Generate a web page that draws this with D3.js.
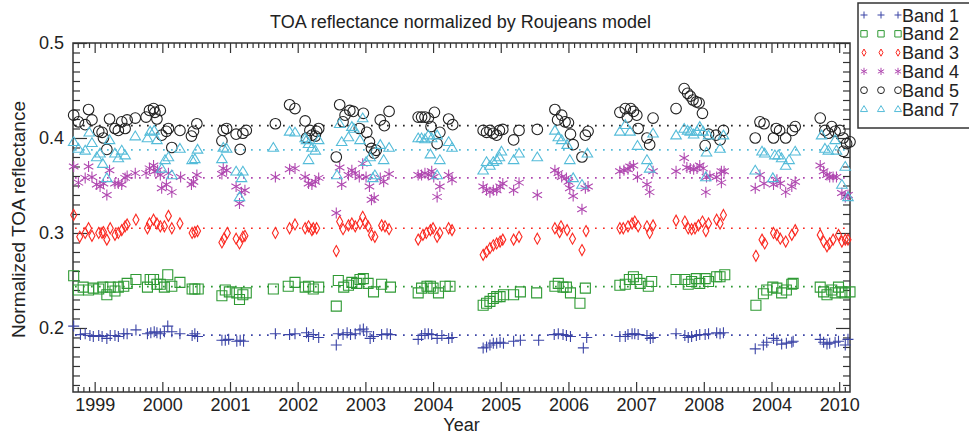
<!DOCTYPE html>
<html>
<head>
<meta charset="utf-8">
<script src="https://cdn.jsdelivr.net/npm/d3@7"></script>
<style>
  body { margin: 0; background: #fff; }
  svg { font-family: "Liberation Sans", Arial, Helvetica, sans-serif; }
</style>
</head>
<body>
<script>
// Band 1 (blue plus)
var band1 = [
  [1998.69,0.202],[1998.79,0.193],[1998.86,0.194],[1998.93,0.192],[1998.98,0.191],[1999.06,0.192],[1999.11,0.191],
  [1999.18,0.189],[1999.23,0.192],[1999.30,0.192],[1999.35,0.191],[1999.43,0.194],[1999.48,0.194],[1999.61,0.198],
  [1999.78,0.194],[1999.83,0.195],[1999.88,0.196],[1999.92,0.195],[1999.97,0.194],[2000.03,0.196],[2000.08,0.202],
  [2000.14,0.196],[2000.26,0.194],[2000.44,0.192],[2000.48,0.194],[2000.52,0.191],[2000.88,0.187],[2000.93,0.187],
  [2000.98,0.188],[2001.10,0.186],[2001.15,0.187],[2001.20,0.186],[2001.67,0.194],[2001.88,0.193],[2001.96,0.194],
  [2002.13,0.195],[2002.16,0.191],[2002.23,0.193],[2002.31,0.190],[2002.57,0.182],[2002.60,0.194],[2002.67,0.193],
  [2002.73,0.195],[2002.78,0.193],[2002.85,0.194],[2002.92,0.198],[2002.97,0.199],[2003.02,0.196],[2003.07,0.189],
  [2003.12,0.191],[2003.24,0.193],[2003.32,0.194],[2003.37,0.193],[2003.78,0.188],[2003.83,0.192],[2003.88,0.194],
  [2003.93,0.194],[2003.98,0.193],[2004.06,0.189],[2004.13,0.192],[2004.23,0.189],[2004.28,0.190],[2004.74,0.179],
  [2004.79,0.180],[2004.84,0.182],[2004.89,0.184],[2004.94,0.184],[2004.99,0.185],[2005.04,0.184],[2005.19,0.186],
  [2005.29,0.187],[2005.56,0.187],[2005.79,0.193],[2005.85,0.194],[2005.92,0.193],[2005.97,0.192],[2006.03,0.191],
  [2006.22,0.179],[2006.27,0.190],[2006.76,0.191],[2006.84,0.191],[2006.88,0.193],[2006.94,0.194],[2006.98,0.194],
  [2007.03,0.193],[2007.16,0.192],[2007.21,0.189],[2007.25,0.190],[2007.59,0.194],[2007.72,0.192],[2007.77,0.190],
  [2007.82,0.191],[2007.89,0.192],[2007.94,0.193],[2008.02,0.193],[2008.07,0.194],[2008.19,0.195],[2008.24,0.194],
  [2008.29,0.195],[2008.76,0.178],[2008.88,0.182],[2008.93,0.185],[2009.03,0.189],[2009.08,0.187],[2009.15,0.183],
  [2009.22,0.184],[2009.30,0.185],[2009.32,0.186],[2009.72,0.188],[2009.77,0.185],[2009.82,0.183],[2009.86,0.184],
  [2009.94,0.185],[2009.99,0.186],[2010.09,0.182],[2010.13,0.188]
];

// Band 2 (green squares)
var band2 = [
  [1998.69,0.255],[1998.76,0.240],[1998.83,0.243],[1998.91,0.240],[1998.98,0.242],[1999.06,0.241],[1999.12,0.243],
  [1999.18,0.235],[1999.23,0.243],[1999.30,0.239],[1999.35,0.243],[1999.43,0.244],[1999.48,0.247],[1999.61,0.251],
  [1999.78,0.243],[1999.82,0.251],[1999.87,0.251],[1999.92,0.246],[1999.97,0.246],[2000.03,0.243],[2000.08,0.256],
  [2000.14,0.244],[2000.26,0.248],[2000.44,0.241],[2000.48,0.241],[2000.53,0.241],[2000.88,0.234],[2000.93,0.240],
  [2000.99,0.238],[2001.10,0.237],[2001.14,0.230],[2001.19,0.235],[2001.24,0.237],[2001.64,0.241],[2001.86,0.244],
  [2001.96,0.248],[2002.11,0.243],[2002.16,0.244],[2002.23,0.241],[2002.31,0.243],[2002.57,0.223],[2002.60,0.250],
  [2002.68,0.243],[2002.75,0.245],[2002.80,0.248],[2002.87,0.247],[2002.92,0.251],[2002.97,0.252],[2003.04,0.247],
  [2003.12,0.238],[2003.24,0.246],[2003.37,0.243],[2003.78,0.237],[2003.83,0.242],[2003.91,0.244],[2003.96,0.244],
  [2004.00,0.242],[2004.08,0.237],[2004.18,0.244],[2004.25,0.244],[2004.74,0.224],[2004.79,0.226],[2004.84,0.228],
  [2004.89,0.231],[2004.94,0.233],[2004.99,0.233],[2005.04,0.235],[2005.19,0.235],[2005.29,0.238],[2005.53,0.237],
  [2005.80,0.244],[2005.85,0.247],[2005.92,0.243],[2005.97,0.243],[2006.03,0.237],[2006.17,0.226],[2006.25,0.242],
  [2006.76,0.245],[2006.84,0.246],[2006.90,0.251],[2006.96,0.254],[2007.01,0.251],[2007.06,0.247],[2007.18,0.244],
  [2007.23,0.249],[2007.59,0.251],[2007.72,0.251],[2007.77,0.246],[2007.82,0.249],[2007.89,0.252],[2007.94,0.247],
  [2008.02,0.252],[2008.07,0.249],[2008.19,0.254],[2008.24,0.254],[2008.31,0.256],[2008.77,0.224],[2008.88,0.236],
  [2008.93,0.240],[2009.02,0.243],[2009.08,0.242],[2009.15,0.237],[2009.22,0.240],[2009.30,0.246],[2009.32,0.247],
  [2009.72,0.243],[2009.77,0.238],[2009.82,0.235],[2009.89,0.240],[2009.94,0.237],[2009.99,0.243],[2010.04,0.238],
  [2010.09,0.237],[2010.16,0.238]
];

// Band 3 (red diamonds)
var band3 = [
  [1998.69,0.319],[1998.78,0.296],[1998.86,0.300],[1998.91,0.305],[1998.96,0.297],[1999.06,0.300],[1999.11,0.300],
  [1999.13,0.301],[1999.18,0.293],[1999.23,0.305],[1999.30,0.298],[1999.35,0.300],[1999.40,0.303],[1999.45,0.307],
  [1999.48,0.309],[1999.61,0.314],[1999.78,0.305],[1999.81,0.310],[1999.87,0.314],[1999.92,0.310],[1999.97,0.307],
  [2000.03,0.307],[2000.09,0.318],[2000.14,0.305],[2000.26,0.310],[2000.44,0.300],[2000.48,0.301],[2000.52,0.302],
  [2000.88,0.290],[2000.91,0.294],[2000.96,0.300],[2001.09,0.294],[2001.14,0.289],[2001.19,0.296],[2001.22,0.297],
  [2001.67,0.300],[2001.88,0.305],[2001.96,0.309],[2002.11,0.305],[2002.16,0.307],[2002.21,0.303],[2002.23,0.305],
  [2002.28,0.305],[2002.57,0.281],[2002.62,0.312],[2002.67,0.304],[2002.75,0.308],[2002.80,0.310],[2002.85,0.307],
  [2002.92,0.310],[2002.96,0.317],[2003.00,0.311],[2003.04,0.307],[2003.09,0.298],[2003.14,0.296],[2003.24,0.308],
  [2003.29,0.307],[2003.35,0.304],[2003.78,0.293],[2003.85,0.298],[2003.90,0.300],[2003.96,0.303],[2004.00,0.305],
  [2004.06,0.296],[2004.10,0.300],[2004.23,0.305],[2004.28,0.303],[2004.74,0.277],[2004.79,0.280],[2004.84,0.284],
  [2004.89,0.287],[2004.94,0.289],[2004.99,0.291],[2005.03,0.293],[2005.19,0.293],[2005.27,0.296],[2005.54,0.294],
  [2005.80,0.305],[2005.87,0.301],[2005.89,0.307],[2005.98,0.303],[2006.06,0.294],[2006.20,0.282],[2006.26,0.302],
  [2006.76,0.305],[2006.81,0.305],[2006.88,0.307],[2006.94,0.310],[2006.98,0.312],[2007.03,0.307],[2007.16,0.307],
  [2007.20,0.300],[2007.25,0.308],[2007.59,0.313],[2007.72,0.312],[2007.77,0.305],[2007.82,0.304],[2007.87,0.305],
  [2007.92,0.308],[2007.98,0.312],[2008.03,0.302],[2008.07,0.310],[2008.19,0.314],[2008.24,0.310],[2008.29,0.319],
  [2008.77,0.276],[2008.86,0.293],[2008.90,0.289],[2009.03,0.300],[2009.08,0.298],[2009.13,0.294],[2009.21,0.291],
  [2009.30,0.298],[2009.35,0.303],[2009.72,0.298],[2009.77,0.291],[2009.82,0.286],[2009.86,0.289],[2009.91,0.293],
  [2009.99,0.298],[2010.04,0.291],[2010.09,0.293],[2010.13,0.293]
];

// Band 4 (magenta asterisks)
var band4 = [
  [1998.69,0.370],[1998.76,0.353],[1998.86,0.358],[1998.91,0.370],[1998.96,0.359],[1999.03,0.351],[1999.08,0.349],
  [1999.13,0.352],[1999.18,0.340],[1999.22,0.366],[1999.30,0.352],[1999.35,0.352],[1999.40,0.351],[1999.45,0.358],
  [1999.48,0.360],[1999.60,0.363],[1999.76,0.363],[1999.81,0.368],[1999.87,0.371],[1999.89,0.365],[1999.93,0.366],
  [1999.97,0.361],[1999.99,0.347],[2000.06,0.351],[2000.09,0.363],[2000.14,0.343],[2000.27,0.359],[2000.43,0.351],
  [2000.46,0.354],[2000.51,0.361],[2000.88,0.362],[2000.90,0.368],[2000.95,0.366],[2001.09,0.349],[2001.14,0.331],
  [2001.17,0.343],[2001.22,0.345],[2001.67,0.359],[2001.88,0.367],[2001.96,0.368],[2002.11,0.359],[2002.16,0.352],
  [2002.21,0.351],[2002.26,0.354],[2002.31,0.358],[2002.57,0.321],[2002.62,0.369],[2002.65,0.351],[2002.75,0.361],
  [2002.80,0.366],[2002.85,0.363],[2002.91,0.359],[2002.96,0.373],[2003.01,0.359],[2003.06,0.349],[2003.09,0.335],
  [2003.13,0.337],[2003.22,0.358],[2003.27,0.354],[2003.35,0.362],[2003.78,0.361],[2003.83,0.361],[2003.88,0.363],
  [2003.93,0.361],[2003.98,0.365],[2004.01,0.359],[2004.06,0.338],[2004.10,0.349],[2004.23,0.361],[2004.28,0.356],
  [2004.74,0.349],[2004.79,0.345],[2004.84,0.343],[2004.89,0.345],[2004.94,0.345],[2004.99,0.349],[2005.03,0.352],
  [2005.19,0.345],[2005.27,0.353],[2005.54,0.340],[2005.80,0.366],[2005.85,0.363],[2005.90,0.359],[2005.97,0.358],
  [2006.00,0.354],[2006.02,0.347],[2006.07,0.339],[2006.20,0.325],[2006.25,0.347],[2006.29,0.349],[2006.76,0.365],
  [2006.82,0.366],[2006.88,0.367],[2006.91,0.370],[2006.96,0.371],[2007.02,0.359],[2007.16,0.351],[2007.20,0.343],
  [2007.25,0.365],[2007.59,0.365],[2007.71,0.379],[2007.75,0.369],[2007.80,0.368],[2007.85,0.367],[2007.90,0.368],
  [2007.94,0.371],[2007.99,0.368],[2008.04,0.359],[2008.03,0.343],[2008.09,0.360],[2008.19,0.359],[2008.26,0.365],
  [2008.26,0.353],[2008.30,0.365],[2008.76,0.347],[2008.83,0.361],[2008.89,0.352],[2009.03,0.351],[2009.08,0.356],
  [2009.13,0.352],[2009.21,0.343],[2009.30,0.349],[2009.35,0.354],[2009.72,0.371],[2009.77,0.365],[2009.82,0.361],
  [2009.86,0.359],[2009.91,0.359],[2009.96,0.359],[2010.04,0.342],[2010.09,0.338],[2010.13,0.340]
];

// Band 5 (black circles)
var band5 = [
  [1998.69,0.424],[1998.76,0.417],[1998.86,0.414],[1998.91,0.430],[1998.96,0.419],[1999.06,0.407],[1999.11,0.406],
  [1999.13,0.400],[1999.18,0.388],[1999.22,0.420],[1999.30,0.410],[1999.35,0.408],[1999.40,0.417],[1999.45,0.410],
  [1999.48,0.419],[1999.60,0.421],[1999.76,0.422],[1999.81,0.429],[1999.87,0.431],[1999.89,0.427],[1999.92,0.420],
  [1999.97,0.429],[1999.99,0.403],[2000.06,0.407],[2000.09,0.410],[2000.14,0.390],[2000.26,0.408],[2000.43,0.402],
  [2000.46,0.407],[2000.51,0.415],[2000.88,0.397],[2000.90,0.408],[2000.95,0.410],[2001.09,0.404],[2001.15,0.388],
  [2001.19,0.405],[2001.24,0.408],[2001.67,0.415],[2001.88,0.435],[2001.96,0.431],[2002.11,0.418],[2002.13,0.400],
  [2002.18,0.408],[2002.21,0.403],[2002.26,0.402],[2002.28,0.407],[2002.31,0.410],[2002.57,0.380],[2002.62,0.435],
  [2002.67,0.417],[2002.70,0.424],[2002.77,0.429],[2002.82,0.428],[2002.91,0.410],[2002.97,0.426],[2003.02,0.406],
  [2003.06,0.396],[2003.09,0.389],[2003.13,0.384],[2003.16,0.387],[2003.22,0.419],[2003.28,0.413],[2003.35,0.428],
  [2003.78,0.422],[2003.83,0.422],[2003.88,0.422],[2003.93,0.421],[2003.97,0.412],[2004.02,0.427],[2004.06,0.394],
  [2004.10,0.406],[2004.23,0.420],[2004.29,0.414],[2004.74,0.408],[2004.79,0.406],[2004.84,0.408],[2004.89,0.405],
  [2004.94,0.403],[2004.98,0.408],[2005.03,0.409],[2005.19,0.398],[2005.27,0.408],[2005.54,0.409],[2005.80,0.430],
  [2005.84,0.419],[2005.90,0.424],[2005.95,0.417],[2006.00,0.416],[2006.03,0.404],[2006.07,0.393],[2006.20,0.380],
  [2006.25,0.403],[2006.29,0.407],[2006.76,0.427],[2006.84,0.431],[2006.87,0.422],[2006.92,0.431],[2006.96,0.428],
  [2007.01,0.424],[2007.03,0.410],[2007.16,0.400],[2007.20,0.393],[2007.25,0.421],[2007.59,0.431],[2007.71,0.452],
  [2007.76,0.447],[2007.80,0.444],[2007.84,0.440],[2007.89,0.438],[2007.93,0.437],[2007.98,0.426],[2008.02,0.392],
  [2008.07,0.404],[2008.18,0.403],[2008.24,0.398],[2008.29,0.408],[2008.76,0.400],[2008.83,0.417],[2008.89,0.415],
  [2009.03,0.400],[2009.07,0.410],[2009.12,0.408],[2009.21,0.400],[2009.31,0.408],[2009.35,0.412],[2009.72,0.421],
  [2009.79,0.408],[2009.84,0.405],[2009.89,0.412],[2009.94,0.407],[2010.01,0.408],[2010.06,0.400],[2010.11,0.394],
  [2010.06,0.386],[2010.16,0.396]
];

// Band 7 (cyan triangles)
var band7 = [
  [1998.69,0.396],[1998.76,0.389],[1998.86,0.387],[1998.92,0.406],[1998.96,0.395],[1999.03,0.380],[1999.08,0.384],
  [1999.12,0.373],[1999.18,0.358],[1999.22,0.398],[1999.30,0.384],[1999.35,0.379],[1999.40,0.387],[1999.45,0.382],
  [1999.60,0.402],[1999.78,0.400],[1999.82,0.407],[1999.88,0.408],[1999.92,0.398],[1999.99,0.368],[2000.04,0.377],
  [2000.09,0.380],[2000.14,0.361],[2000.26,0.389],[2000.44,0.377],[2000.48,0.378],[2000.52,0.388],[2000.88,0.378],
  [2000.90,0.390],[2000.95,0.389],[2001.09,0.365],[2001.17,0.358],[2001.19,0.365],[2001.14,0.338],[2001.64,0.390],
  [2001.88,0.407],[2001.96,0.406],[2002.11,0.400],[2002.13,0.398],[2002.16,0.377],[2002.16,0.394],[2002.21,0.390],
  [2002.26,0.387],[2002.31,0.398],[2002.58,0.361],[2002.62,0.415],[2002.65,0.396],[2002.75,0.401],[2002.80,0.412],
  [2002.83,0.410],[2002.92,0.398],[2002.96,0.421],[2003.01,0.375],[2003.07,0.380],[2003.11,0.358],[2003.14,0.361],
  [2003.22,0.393],[2003.27,0.377],[2003.35,0.390],[2003.78,0.400],[2003.83,0.400],[2003.88,0.399],[2003.93,0.403],
  [2003.98,0.400],[2003.96,0.383],[2004.06,0.403],[2004.06,0.361],[2004.10,0.377],[2004.23,0.396],[2004.28,0.390],
  [2004.74,0.366],[2004.79,0.375],[2004.84,0.371],[2004.89,0.375],[2004.94,0.377],[2004.98,0.380],[2005.01,0.386],
  [2005.19,0.377],[2005.27,0.384],[2005.54,0.380],[2005.80,0.408],[2005.85,0.401],[2005.90,0.398],[2005.98,0.393],
  [2006.02,0.377],[2006.07,0.358],[2006.20,0.351],[2006.28,0.384],[2006.76,0.407],[2006.84,0.414],[2006.91,0.407],
  [2007.02,0.392],[2007.16,0.377],[2007.20,0.368],[2007.25,0.405],[2007.59,0.403],[2007.71,0.410],[2007.76,0.408],
  [2007.80,0.407],[2007.85,0.404],[2007.90,0.407],[2007.94,0.412],[2007.99,0.407],[2008.04,0.385],[2008.07,0.403],
  [2008.03,0.359],[2008.24,0.389],[2008.29,0.403],[2008.76,0.366],[2008.86,0.386],[2008.90,0.384],[2009.02,0.358],
  [2009.05,0.382],[2009.10,0.382],[2009.15,0.379],[2009.21,0.371],[2009.26,0.377],[2009.35,0.386],[2009.74,0.403],
  [2009.79,0.389],[2009.84,0.387],[2009.94,0.398],[2009.96,0.387],[2010.09,0.370],[2010.04,0.351],[2010.13,0.338]
];

var bandNames = ["Band 1", "Band 2", "Band 3", "Band 4", "Band 5", "Band 7"];
var bandMeans = [0.1925, 0.2435, 0.305, 0.358, 0.413, 0.3875];
var yearTicks = [1999, 2000, 2001, 2002, 2003, 2004, 2005, 2006, 2007, 2008, 2009, 2010];
var yearLabels = ["1999", "2000", "2001", "2002", "2003", "2004", "2005", "2006", "2007", "2008", "2004", "2010"];
var yTicks = [0.2, 0.3, 0.4, 0.5];

function init() {
    var W = 969, H = 435;
    var margin = {top: 43, right: 119, bottom: 43, left: 73};
    var w = W - margin.left - margin.right;
    var h = H - margin.top - margin.bottom;

    var svg = d3.select("body")
        .append("svg")
        .attr("width", W)
        .attr("height", H);

    var g = svg.append("g")
        .attr("transform", "translate(" + margin.left + "," + margin.top + ")");

    var xScale = d3.scaleLinear().domain([1998.68, 2010.16]).range([0, w]);
    var yScale = d3.scaleLinear().domain([0.1326, 0.5]).range([h, 0]);

    var axisColor = "#333";

    // minor ticks (monthly / 0.01)
    var xd = xScale.domain();
    var monthTicks = d3.range(Math.ceil(xd[0] * 12), Math.floor(xd[1] * 12) + 1)
        .map(function(k) { return k / 12; })
        .filter(function(v) { return Math.abs(v - Math.round(v)) > 1e-6; });
    var yMinor = d3.range(14, 50).map(function(k) { return k / 100; })
        .filter(function(v) { return Math.abs(v * 10 - Math.round(v * 10)) > 1e-6; });

    function styleAxis(sel) {
        sel.select(".domain").remove();
        sel.selectAll(".tick line").attr("stroke", axisColor).attr("stroke-width", 1.2);
        sel.selectAll(".tick text")
            .attr("fill", "#222")
            .style("font-size", "18px")
            .style("font-family", "'Liberation Sans', Arial, sans-serif");
    }

    g.append("g").attr("transform", "translate(0," + h + ")")
        .call(d3.axisBottom(xScale).tickValues(monthTicks).tickSize(-5).tickFormat(""))
        .call(styleAxis);
    g.append("g").attr("transform", "translate(0," + h + ")")
        .call(d3.axisBottom(xScale).tickValues(yearTicks).tickSize(-10).tickPadding(6)
            .tickFormat(function(d, i) { return yearLabels[i]; }))
        .call(styleAxis);
    g.append("g")
        .call(d3.axisTop(xScale).tickValues(monthTicks).tickSize(-5).tickFormat(""))
        .call(styleAxis);
    g.append("g")
        .call(d3.axisTop(xScale).tickValues(yearTicks).tickSize(-10).tickFormat(""))
        .call(styleAxis);

    g.append("g")
        .call(d3.axisLeft(yScale).tickValues(yMinor).tickSize(-7).tickFormat(""))
        .call(styleAxis);
    g.append("g")
        .call(d3.axisLeft(yScale).tickValues(yTicks).tickSize(-14).tickPadding(9).tickFormat(d3.format(".1f")))
        .call(styleAxis);
    g.append("g").attr("transform", "translate(" + w + ",0)")
        .call(d3.axisRight(yScale).tickValues(yMinor).tickSize(-7).tickFormat(""))
        .call(styleAxis);
    g.append("g").attr("transform", "translate(" + w + ",0)")
        .call(d3.axisRight(yScale).tickValues(yTicks).tickSize(-14).tickFormat(""))
        .call(styleAxis);

    // frame
    g.append("rect")
        .attr("x", 0).attr("y", 0).attr("width", w).attr("height", h)
        .attr("fill", "none").attr("stroke", axisColor).attr("stroke-width", 1.5);

    // symbol paths
    function plusPath(s) { return "M" + (-s) + ",0H" + s + "M0," + (-s) + "V" + s; }
    function squarePath(s) { return "M" + (-s) + "," + (-s) + "H" + s + "V" + s + "H" + (-s) + "Z"; }
    function diamondPath(s) { var a = s * 0.55; return "M0," + (-s) + "L" + a + ",0L0," + s + "L" + (-a) + ",0Z"; }
    function starPath(s) {
        var c = s * Math.cos(Math.PI / 6), d = s * Math.sin(Math.PI / 6);
        return "M0," + (-s) + "V" + s +
            "M" + (-c) + "," + (-d) + "L" + c + "," + d +
            "M" + (-c) + "," + d + "L" + c + "," + (-d);
    }
    function circlePath(s) {
        return "M" + s + ",0A" + s + "," + s + " 0 1,1 " + (-s) + ",0A" + s + "," + s + " 0 1,1 " + s + ",0Z";
    }
    function trianglePath(s) {
        return "M0," + (-s) + "L" + (s * 1.05) + "," + (s * 0.75) + "L" + (-s * 1.05) + "," + (s * 0.75) + "Z";
    }

    var bands = [
        {name: bandNames[0], data: band1, mean: bandMeans[0], color: "#3b44a6", shape: plusPath, size: 5.5, legSize: 3.5},
        {name: bandNames[1], data: band2, mean: bandMeans[1], color: "#2f9a34", shape: squarePath, size: 5, legSize: 3.2},
        {name: bandNames[2], data: band3, mean: bandMeans[2], color: "#fb2a22", shape: diamondPath, size: 5.5, legSize: 3.6},
        {name: bandNames[3], data: band4, mean: bandMeans[3], color: "#b048b0", shape: starPath, size: 5.5, legSize: 3.6},
        {name: bandNames[4], data: band5, mean: bandMeans[4], color: "#222222", shape: circlePath, size: 5.3, legSize: 3.4},
        {name: bandNames[5], data: band7, mean: bandMeans[5], color: "#55bcd9", shape: trianglePath, size: 5, legSize: 3.4}
    ];

    // dotted mean lines
    g.selectAll("line.mean")
        .data(bands)
        .enter()
        .append("line")
        .attr("class", "mean")
        .attr("x1", 2).attr("x2", w - 2)
        .attr("y1", function(d) { return yScale(d.mean); })
        .attr("y2", function(d) { return yScale(d.mean); })
        .attr("stroke", function(d) { return d.color; })
        .attr("stroke-width", 1.7)
        .attr("stroke-dasharray", "1.7,6.3");

    // points
    var groups = g.selectAll("g.band")
        .data(bands)
        .enter()
        .append("g")
        .attr("class", "band")
        .attr("stroke", function(d) { return d.color; })
        .attr("fill", "none")
        .attr("stroke-width", 1.1);

    groups.selectAll("path")
        .data(function(d) { return d.data.map(function(p) { return {p: p, band: d}; }); })
        .enter()
        .append("path")
        .attr("transform", function(d) {
            return "translate(" + xScale(d.p[0]) + "," + yScale(d.p[1]) + ")";
        })
        .attr("d", function(d) { return d.band.shape(d.band.size); });

    // title and axis labels
    svg.append("text")
        .attr("x", margin.left + w / 2 - 1).attr("y", 28)
        .attr("text-anchor", "middle")
        .style("font-size", "18px").attr("fill", "#222")
        .text("TOA reflectance normalized by Roujeans model");

    svg.append("text")
        .attr("x", margin.left + w / 2).attr("y", 431)
        .attr("text-anchor", "middle")
        .style("font-size", "18px").attr("fill", "#222")
        .text("Year");

    svg.append("text")
        .attr("transform", "translate(25," + (margin.top + h / 2 + 2) + ") rotate(-90)")
        .attr("text-anchor", "middle")
        .style("font-size", "19px").attr("fill", "#222")
        .text("Normalized TOA reflectance");

    // legend
    var legend = svg.append("g").attr("transform", "translate(858,3)");
    legend.append("rect")
        .attr("x", 0).attr("y", 0).attr("width", 130).attr("height", 125)
        .attr("fill", "#fff").attr("stroke", axisColor).attr("stroke-width", 1.5);

    var items = legend.selectAll("g.item")
        .data(bands)
        .enter()
        .append("g")
        .attr("class", "item")
        .attr("transform", function(d, i) { return "translate(0," + (12 + i * 18.8) + ")"; });

    [6, 23, 40].forEach(function(px) {
        items.append("path")
            .attr("transform", "translate(" + px + ",0)")
            .attr("d", function(d) { return d.shape(d.legSize); })
            .attr("fill", "none")
            .attr("stroke", function(d) { return d.color; })
            .attr("stroke-width", 1);
    });

    items.append("text")
        .attr("x", 44).attr("y", 6.5)
        .style("font-size", "18px").attr("fill", "#222")
        .text(function(d) { return d.name; });
}

window.onload = init;
</script>
</body>
</html>
